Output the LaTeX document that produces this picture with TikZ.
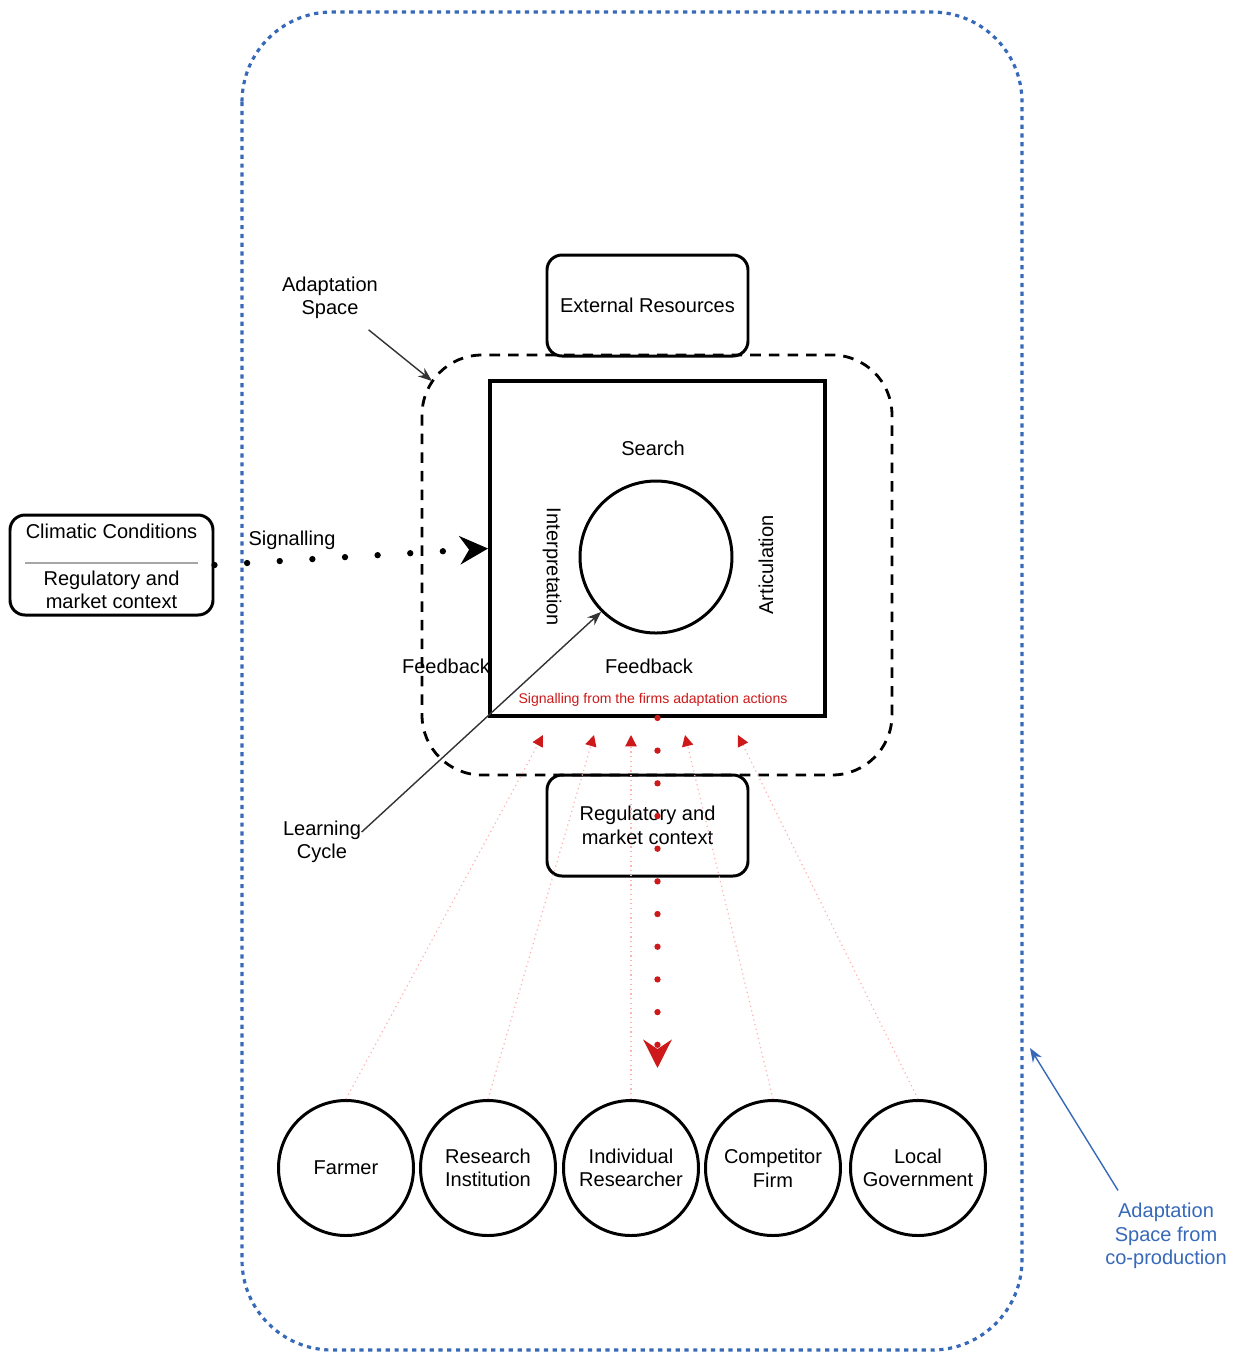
\documentclass[tikz,border=0pt]{standalone}
\usepackage{fontspec}
\setmainfont{Liberation Sans}
\usetikzlibrary{arrows.meta, positioning}
\definecolor{spaceblue}{RGB}{55,105,185}
\definecolor{signalred}{RGB}{205,25,25}
\xdef\LWB{0.85pt}
\tikzset{
  txt/.style={font=\fontsize{5.7}{6.7}\selectfont, align=center, inner sep=0},
  smalltxt/.style={font=\fontsize{4.0}{4.6}\selectfont, inner sep=0},
  roundbox/.style={draw, line width=\LWB, rounded corners=0.15cm, minimum width=2.01cm, minimum height=1.01cm, txt},
  actor/.style={draw, circle, line width=\LWB, minimum size=1.35cm, txt},
  dotline/.style={line width=1.8pt, dash pattern=on 0pt off 9.3pt, line cap=round, -{Stealth[length=8pt,width=8pt]}},
  faint/.style={draw=red!30, densely dotted, line width=0.35pt, -{Triangle[length=3.2pt,width=3.2pt,color=signalred]}},
  pointer/.style={line width=0.4pt, -{Stealth[length=4pt,width=3pt]}},
}
\begin{document}
\begin{tikzpicture}[x=1cm,y=-1cm]
\useasboundingbox (0,0) rectangle (12.36,13.53);
% co-production space
\draw[spaceblue, line width=0.9pt, dash pattern=on 1.2pt off 1.3pt, rounded corners=0.9cm] (2.42,0.12) rectangle (10.22,13.50);
% adaptation space
\draw[line width=0.8pt, dash pattern=on 3pt off 2.3pt, rounded corners=0.6cm] (4.22,3.55) rectangle (8.92,7.75);
\node[draw, line width=1.1pt, minimum size=3.35cm, inner sep=0] (firm) at (6.575,5.485) {};
\node[draw, circle, line width=\LWB, minimum size=1.52cm, inner sep=0] (cycle) at (6.56,5.57) {};
\node[txt] (search) at (6.53,4.48) {Search};
\node[txt, rotate=-90] (interp) at (5.52,5.67) {Interpretation};
\node[txt, rotate=90] (artic) at (7.66,5.65) {Articulation};
\node[txt] (fbin) at (6.49,6.66) {Feedback};
\node[smalltxt, signalred] (firmsig) at (6.53,7.00) {Signalling from the firms adaptation actions};
\node[txt] (fbout) at (4.46,6.66) {Feedback};
% boxes round it
\node[roundbox] (extres) at (6.475,3.055) {External Resources};
\node[roundbox] (regmkt) at (6.475,8.255) {Regulatory and\\market context};
\node[roundbox, minimum width=2.03cm, minimum height=1.0cm] (climate) at (1.115,5.65) {};
\draw[gray!70, line width=0.6pt] (0.25,5.63) -- (1.98,5.63);
\node[txt] (climtxt) at (1.115,5.31) {Climatic Conditions};
\node[txt] (regtxt) at (1.115,5.90) {Regulatory and\\market context};
% actors
\node[actor] (farmer) at (3.46,11.68) {Farmer};
\node[actor] (resinst) at (4.88,11.68) {Research\\Institution};
\node[actor] (indres) at (6.31,11.68) {Individual\\Researcher};
\node[actor] (compet) at (7.73,11.68) {Competitor\\Firm};
\node[actor] (localgov) at (9.18,11.68) {Local\\Government};
% labels
\node[txt] (aslabel) at (3.30,2.98) {Adaptation\\Space};
\node[txt] (learn) at (3.22,8.42) {Learning\\Cycle};
\node[txt] (siglabel) at (2.92,5.40) {Signalling};
\node[txt, spaceblue] (coprod) at (11.66,12.36) {Adaptation\\Space from\\co-production};
\coordinate (ascorner) at (4.32,3.81);
\coordinate (outeredge) at (10.30,10.48);
\coordinate (sigend) at (6.575,10.68);
\coordinate (tipa) at (5.43,7.35);
\coordinate (tipb) at (5.94,7.35);
\coordinate (tipc) at (6.31,7.35);
\coordinate (tipd) at (6.85,7.35);
\coordinate (tipe) at (7.38,7.35);
% signals
\draw[dotline] (climate.east) -- (firm.west);
\draw[dotline, signalred] (firm.south) -- (sigend);
\draw[faint] (farmer.north) -- (tipa);
\draw[faint] (resinst.north) -- (tipb);
\draw[faint] (indres.north) -- (tipc);
\draw[faint] (compet.north) -- (tipd);
\draw[faint] (localgov.north) -- (tipe);
% pointers
\draw[pointer, gray!40!black] ([xshift=-1mm,yshift=-1mm]aslabel.south east) -- (ascorner);
\draw[pointer, gray!40!black] ([yshift=1mm]learn.east) -- (cycle.225);
\draw[pointer, spaceblue] ([xshift=-4.8mm,yshift=1.2mm]coprod.north) -- (outeredge);
\end{tikzpicture}
\end{document}
